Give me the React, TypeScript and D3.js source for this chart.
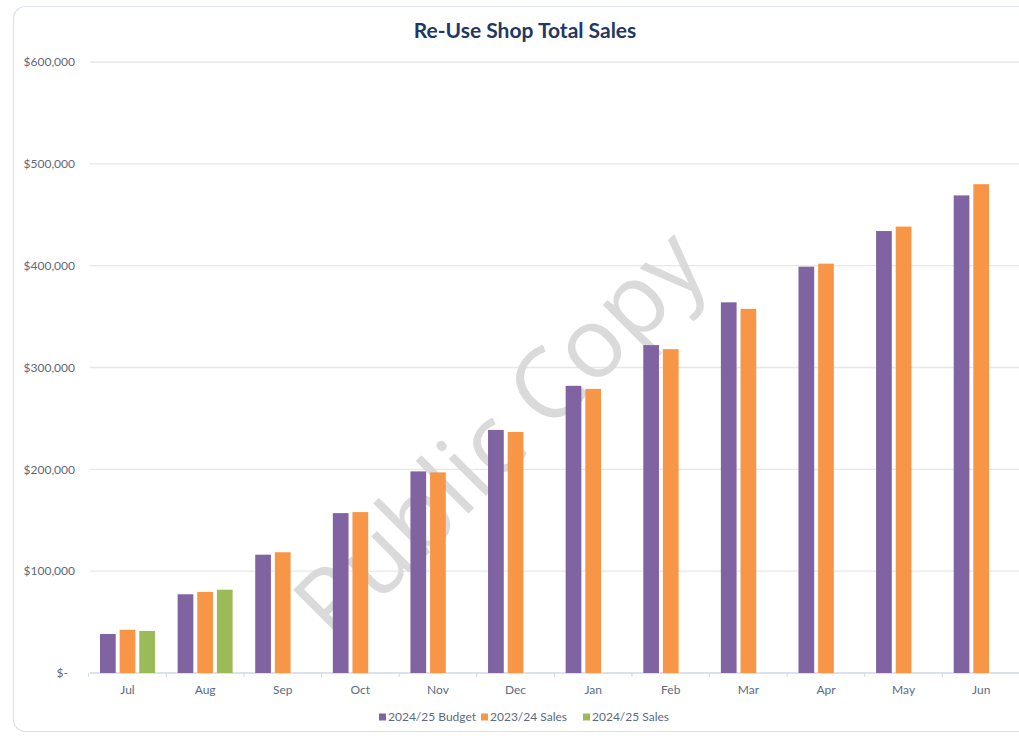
import React from "react";
import * as d3 from "d3";

const months = ["Jul", "Aug", "Sep", "Oct", "Nov", "Dec", "Jan", "Feb", "Mar", "Apr", "May", "Jun"];
const seriesNames = ["2024/25 Budget", "2023/24 Sales", "2024/25 Sales"];
const budget2425 = [38300, 77300, 116200, 157000, 198000, 238700, 282000, 322000, 364000, 399000, 434000, 469000];
const sales2324 = [42500, 79600, 118600, 158000, 197000, 236700, 279000, 318000, 357600, 402000, 438400, 480000];
const sales2425: (number | null)[] = [41300, 81800, null, null, null, null, null, null, null, null, null, null];
const yTicks = [0, 100000, 200000, 300000, 400000, 500000, 600000];
const colors = ["#8064a2", "#f79646", "#9bbb59"];

const W = 1019;
const H = 736;

export default function App() {
  const x0 = d3.scaleBand<string>().domain(months).range([88.7, 1020]).padding(0);
  const bw = x0.bandwidth();
  const x1 = d3
    .scaleBand<string>()
    .domain(seriesNames)
    .range([bw / 2 - 27.5, bw / 2 + 27.5])
    .paddingInner(0.2)
    .paddingOuter(0);
  const y = d3.scaleLinear().domain([0, 600000]).range([673, 62]);
  const fmt = d3.format(",");
  const allSeries = [budget2425, sales2324, sales2425];

  const legendX = [379, 481, 583];

  return (
    <svg
      width={W}
      height={H}
      style={{ position: "absolute", left: 0, top: 0, background: "#fff" }}
      fontFamily="Lato, 'Open Sans', sans-serif"
    >
      <rect x={13.5} y={6.5} width={1030} height={725} rx={12} fill="#fff" stroke="#dde2ea" strokeWidth={1.2} />
      <text x={525} y={38} textAnchor="middle" fontSize={21} fontWeight="bold" fill="#1f3864">
        Re-Use Shop Total Sales
      </text>
      {yTicks.map((t) => (
        <g key={t}>
          <line x1={90} x2={1020} y1={y(t)} y2={y(t)} stroke={t === 0 ? "#cfd8e4" : "#e3e7ee"} strokeWidth={1.3} />
          <text
            x={t === 0 ? 68 : 75}
            y={y(t)}
            dy="0.35em"
            textAnchor="end"
            fontSize={12}
            fill="#5f6876"
          >
            {t === 0 ? "$-" : "$" + fmt(t)}
          </text>
        </g>
      ))}
      {months.map((m) => (
        <line
          key={"tick" + m}
          x1={(x0(m) as number)}
          x2={(x0(m) as number)}
          y1={673}
          y2={677}
          stroke="#cfd8e4"
        />
      ))}
      <text
        x={505}
        y={440}
        textAnchor="middle"
        dominantBaseline="middle"
        fontSize={98}
        fill="#dadada"
        transform="rotate(-45 505 440)"
        fontFamily="'Open Sans', Lato, sans-serif"
        fontWeight={400}
      >
        Public Copy
      </text>
      {allSeries.map((vals, si) =>
        vals.map((v, i) =>
          v == null ? null : (
            <rect
              key={si + "-" + i}
              x={(x0(months[i]) as number) + (x1(seriesNames[si]) as number)}
              y={y(v)}
              width={x1.bandwidth()}
              height={y(0) - y(v)}
              fill={colors[si]}
            />
          )
        )
      )}
      {months.map((m) => (
        <text
          key={"lbl" + m}
          x={(x0(m) as number) + bw / 2}
          y={690}
          dy="0.35em"
          textAnchor="middle"
          fontSize={12}
          fill="#5a6b85"
        >
          {m}
        </text>
      ))}
      {seriesNames.map((s, i) => (
        <g key={"leg" + s}>
          <rect x={legendX[i]} y={713.5} width={7} height={7} fill={colors[i]} />
          <text x={legendX[i] + 9} y={717} dy="0.35em" fontSize={12} fill="#5a6b85">
            {s}
          </text>
        </g>
      ))}
    </svg>
  );
}
